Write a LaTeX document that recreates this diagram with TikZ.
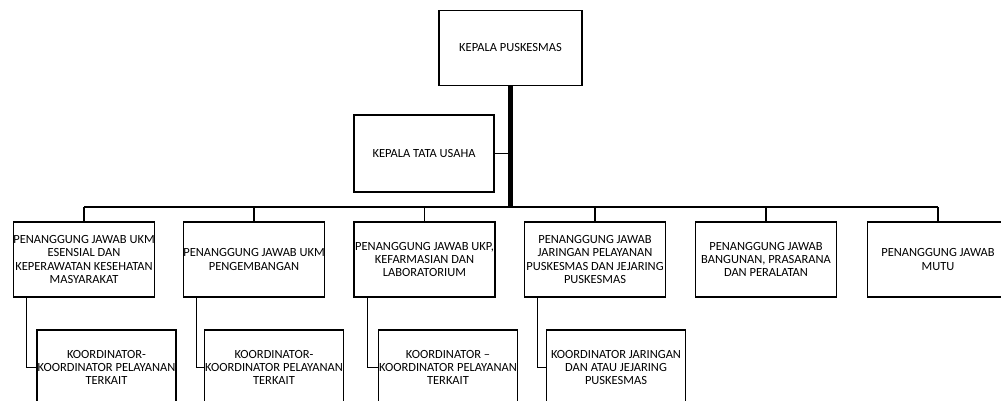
\documentclass[tikz,border=0pt]{standalone}
\usepackage{fontspec}
\setsansfont{Carlito}
\usepackage{tikz}
\usetikzlibrary{positioning, calc}

\begin{document}
\begin{tikzpicture}[
        x=0.02cm, y=-0.02cm,
        box/.style={draw, line width=0.85pt, minimum width=2.82cm, minimum height=1.5cm,
                    inner sep=0pt, align=center, font=\sffamily\fontsize{7.1}{7.5}\selectfont},
        subbox/.style={box, minimum width=2.78cm, minimum height=1.5cm},
        link/.style={line width=0.6pt},
        trunk/.style={line width=2.3pt},
    ]
        \useasboundingbox (0,0) rectangle (1001,401);

        % Top level
        \node[box, minimum width=2.86cm] (kapus) at (510.5, 48) {KEPALA PUSKESMAS};
        \node[box, minimum width=2.80cm, minimum height=1.54cm] (ktu) at (424, 153.5) {KEPALA TATA USAHA};
        \coordinate (bus) at (0, 207);

        % Penanggung jawab
        \node[box] (pj1) at (84, 259.5) {PENANGGUNG JAWAB UKM\\ESENSIAL DAN\\KEPERAWATAN KESEHATAN\\MASYARAKAT};
        \node[box] (pj2) at (254, 259.5) {PENANGGUNG JAWAB UKM\\PENGEMBANGAN};
        \node[box] (pj3) at (424.5, 259.5) {PENANGGUNG JAWAB UKP,\\KEFARMASIAN DAN\\LABORATORIUM};
        \node[box] (pj4) at (595, 259.5) {PENANGGUNG JAWAB\\JARINGAN PELAYANAN\\PUSKESMAS DAN JEJARING\\PUSKESMAS};
        \node[box] (pj5) at (766, 259.5) {PENANGGUNG JAWAB\\BANGUNAN, PRASARANA\\DAN PERALATAN};
        \node[box] (pj6) at (938, 259.5) {PENANGGUNG JAWAB\\MUTU};

        % Koordinator
        \node[subbox] (ko1) at (106.5, 367.5) {KOORDINATOR-\\KOORDINATOR PELAYANAN\\TERKAIT};
        \node[subbox] (ko2) at (274, 367.5) {KOORDINATOR-\\KOORDINATOR PELAYANAN\\TERKAIT};
        \node[subbox] (ko3) at (448, 367.5) {KOORDINATOR --\\KOORDINATOR PELAYANAN\\TERKAIT};
        \node[subbox] (ko4) at (616, 367.5) {KOORDINATOR JARINGAN\\DAN ATAU JEJARING\\PUSKESMAS};

        % Connectors
        \draw[trunk] (kapus.south) -- (kapus.south |- bus);
        \draw[link] (ktu.east) -- (ktu.east -| kapus.south);
        \draw[link] (pj1.north |- bus) -- (pj6.north |- bus);
        \foreach \n in {pj1,pj2,pj3,pj4,pj5,pj6}
            \draw[link] (\n.north) -- (\n.north |- bus);
        \foreach \p/\k in {pj1/ko1, pj2/ko2, pj3/ko3, pj4/ko4}
            \draw[link] ([xshift=0.28cm] \p.south west) |- (\k.west);
    \end{tikzpicture}
\end{document}
